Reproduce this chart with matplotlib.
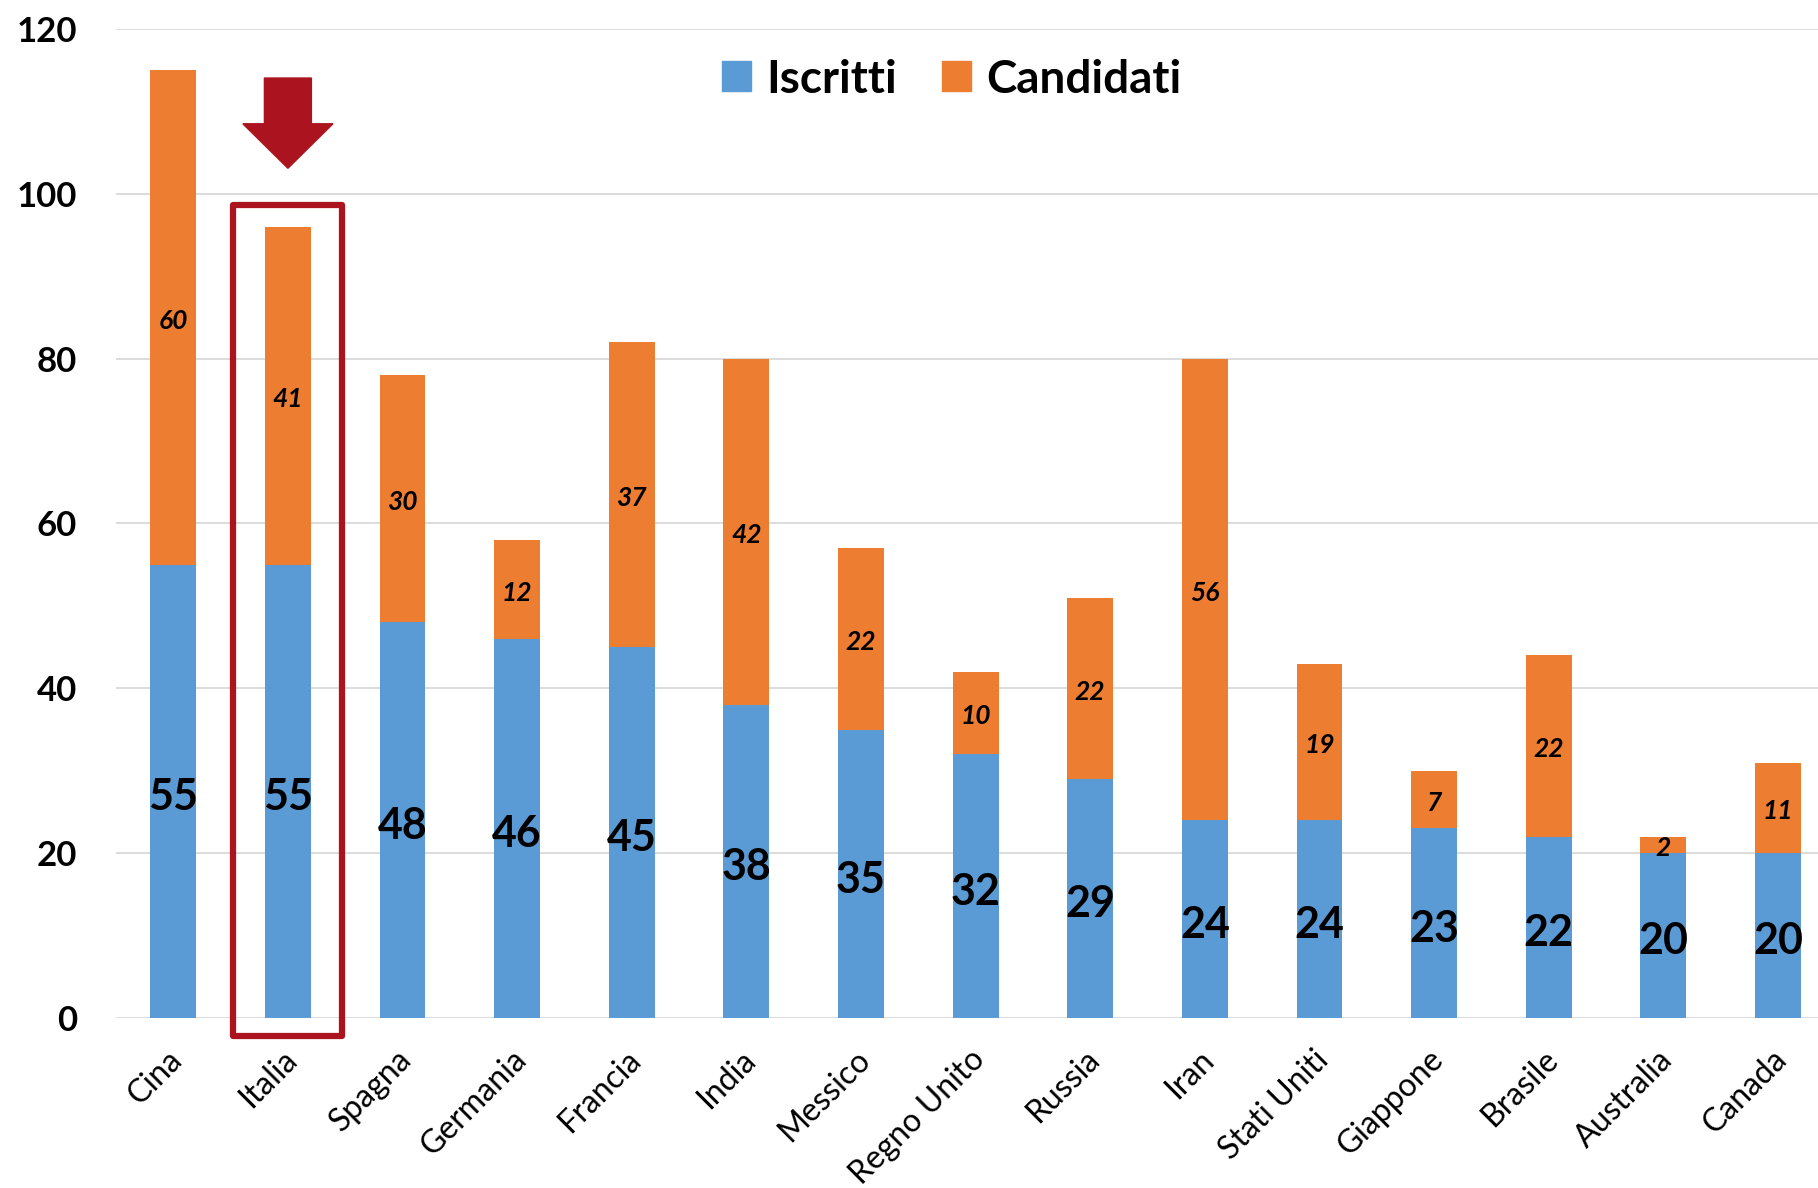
import matplotlib
matplotlib.use("Agg")
import matplotlib.pyplot as plt
from matplotlib.patches import Polygon, Rectangle
from matplotlib.patches import Patch
from matplotlib.transforms import ScaledTranslation
import numpy as np

plt.rcParams['font.family'] = ['Lato', 'DejaVu Sans']

## data
paesi = ["Cina", "Italia", "Spagna", "Germania", "Francia", "India", "Messico",
         "Regno Unito", "Russia", "Iran", "Stati Uniti", "Giappone", "Brasile",
         "Australia", "Canada"]
iscritti = [55, 55, 48, 46, 45, 38, 35, 32, 29, 24, 24, 23, 22, 20, 20]
candidati = [60, 41, 30, 12, 37, 42, 22, 10, 22, 56, 19, 7, 22, 2, 11]
y_ticks = [0, 20, 40, 60, 80, 100, 120]

blue = "#5B9BD5"
orange = "#ED7D31"
red = "#AB141E"

fig = plt.figure(figsize=(18.18, 11.88), dpi=100)
ax = fig.add_axes([0.0638, 0.1431, 0.9362, 0.8325])

x = np.arange(len(paesi))
ax.bar(x, iscritti, width=0.4, color=blue, label="Iscritti", zorder=2)
ax.bar(x, candidati, width=0.4, bottom=iscritti, color=orange, label="Candidati", zorder=2)

# value labels (nudged down a bit to sit like the original)
for i in range(len(paesi)):
    ax.text(x[i], iscritti[i] / 2 - 0.7, str(iscritti[i]), ha="center", va="center",
            fontsize=31, fontweight="bold", color="black", zorder=3)
    ax.text(x[i], iscritti[i] + candidati[i] / 2 - 0.4, str(candidati[i]), ha="center", va="center",
            fontsize=19, fontweight="bold", fontstyle="italic", color="black", zorder=3)

ax.set_xlim(-0.5, 14.35)
ax.set_ylim(0, 120)
ax.set_yticks(y_ticks)
ax.set_yticklabels([str(v) for v in y_ticks], fontsize=25, fontweight="bold")
ax.set_xticks(x)
ax.set_xticklabels(paesi, fontsize=23, rotation=45, ha="right", va="top", rotation_mode="anchor")
ax.tick_params(axis="both", length=0)
ax.tick_params(axis="y", pad=28)
ax.tick_params(axis="x", pad=19)
shift = ScaledTranslation(-6 / 100, 0, fig.dpi_scale_trans)
for lab in ax.get_xticklabels():
    lab.set_transform(lab.get_transform() + shift)
ax.grid(axis="y", color="#D9D9D9", linewidth=1.3, zorder=0)
ax.set_axisbelow(True)
for s in ax.spines.values():
    s.set_visible(False)

# highlight Italia
ax.add_patch(Rectangle((0.52, -2.2), 0.95, 100.8, fill=False, edgecolor=red,
                       linewidth=4.5, joinstyle="round", clip_on=False, zorder=4))
arrow = [(1 - 0.205, 114.05), (1 + 0.205, 114.05), (1 + 0.205, 108.5), (1 + 0.393, 108.5),
         (1, 103.1), (1 - 0.393, 108.5), (1 - 0.205, 108.5)]
ax.add_patch(Polygon(arrow, closed=True, color=red, zorder=4))

handles = [Patch(color=blue, label="Iscritti"), Patch(color=orange, label="Candidati")]
fig.legend(handles=handles, loc="center", bbox_to_anchor=(0.5235, 0.933), ncol=2,
           frameon=False, prop={"size": 33, "weight": "bold"},
           handlelength=0.63, handleheight=0.63, handletextpad=0.33, columnspacing=1.0)

fig.savefig("out.png", dpi=100)
